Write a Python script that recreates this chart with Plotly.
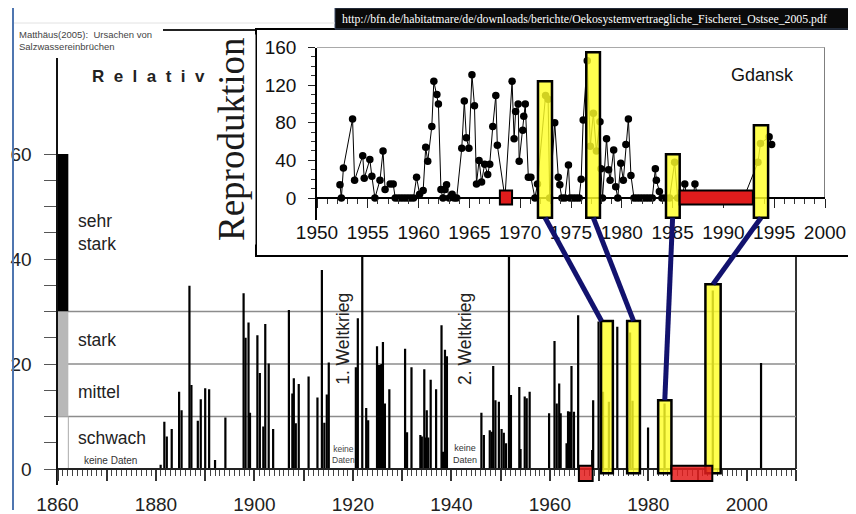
import plotly.graph_objects as go

# ---------------- data ----------------
# Matthäus (2005): relative intensity of major Baltic inflows
bar_years = [1880.95, 1881.7, 1882.2, 1883.2, 1884.7, 1885.2, 1886.8, 1887.2, 1888.5, 1889.1,
             1890.0, 1890.8, 1892.0, 1894.1, 1897.8, 1898.2, 1898.8, 1899.1, 1900.6, 1901.1,
             1901.8, 1902.2, 1902.9, 1903.8, 1907.0, 1907.7, 1908.0, 1908.4, 1909.0, 1911.0,
             1912.8, 1913.7, 1914.2, 1914.7, 1915.1, 1920.6, 1921.0, 1921.9, 1922.7, 1923.1,
             1924.9, 1925.2, 1925.5, 1925.8, 1926.1, 1926.5, 1927.4, 1930.6, 1931.0, 1931.9,
             1933.7, 1934.0, 1934.5, 1934.8, 1935.0, 1935.3, 1935.8, 1936.9, 1938.0, 1938.3,
             1938.7, 1939.1, 1946.1, 1946.6, 1947.8, 1948.2, 1948.5, 1948.95, 1949.65, 1950.2,
             1950.65, 1951.1, 1951.7, 1952.1, 1953.8, 1954.05, 1954.9, 1955.3, 1955.9, 1959.85,
             1960.95, 1961.4, 1961.9, 1962.2, 1963.4, 1963.7, 1964.1, 1964.4, 1964.9, 1965.75,
             1968.6, 1968.8, 1969.9, 1970.8, 1972.0, 1973.7, 1976.3, 1976.8, 1979.95, 1982.0,
             1983.3, 1993.1, 2002.9]
bar_values = [0.8, 9.0, 6.2, 7.6, 14.7, 11.2, 34.9, 16.0, 9.2, 13.3,
              15.4, 15.2, 1.7, 9.8, 33.5, 25.0, 27.9, 10.7, 25.5, 18.3,
              8.1, 27.6, 20.1, 7.6, 30.3, 14.4, 17.3, 8.7, 16.2, 17.6,
              13.6, 37.9, 8.8, 14.2, 20.3, 19.4, 28.7, 90.0, 11.6, 9.3,
              23.4, 19.8, 19.8, 20.0, 24.2, 12.5, 15.2, 22.9, 7.0, 19.4,
              6.5, 6.2, 19.0, 6.0, 11.2, 6.0, 17.0, 15.2, 27.4, 3.3,
              22.7, 21.5, 10.7, 6.5, 7.4, 7.1, 19.6, 13.1, 12.8, 7.6,
              6.9, 4.9, 90.0, 14.1, 15.6, 3.8, 13.8, 13.5, 14.7, 10.6,
              24.4, 12.5, 16.3, 10.6, 4.9, 11.0, 10.9, 19.6, 10.9, 29.3,
              3.6, 13.1, 28.1, 14.7, 12.8, 27.1, 26.0, 13.0, 7.9, 12.8,
              12.5, 34.0, 20.2]

# Gdansk reproduction index (inset)
gdansk_years = [1952.26, 1952.4, 1952.6, 1953.5, 1953.7, 1954.5, 1954.65, 1955.2, 1955.4, 1955.7,
                1956.2, 1956.5, 1956.7, 1957.2, 1957.5, 1957.7, 1958.0, 1958.3, 1958.6, 1958.9,
                1959.2, 1959.5, 1959.8, 1960.1, 1960.45, 1960.7, 1960.9, 1961.3, 1961.5, 1961.8,
                1961.95, 1962.2, 1962.4, 1962.6, 1962.75, 1963.0, 1963.3, 1963.5, 1963.75, 1964.25,
                1964.5, 1964.7, 1964.95, 1965.25, 1965.5, 1965.7, 1965.95, 1966.2, 1966.5, 1966.8,
                1967.0, 1967.3, 1967.6, 1967.75, 1968.5, 1969.2, 1969.4, 1969.55, 1969.8, 1969.9,
                1970.25, 1970.35, 1970.5, 1970.8, 1971.05, 1971.45, 1971.7, 1972.5, 1972.75, 1972.9,
                1973.4, 1973.75, 1973.9, 1974.1, 1974.4, 1974.75, 1974.9, 1975.2, 1975.5, 1975.8,
                1976.0, 1976.2, 1976.6, 1976.9, 1977.2, 1977.5, 1977.85, 1977.95, 1978.1, 1978.5,
                1978.7, 1978.85, 1979.2, 1979.4, 1979.6, 1979.9, 1980.15, 1980.4, 1980.65, 1980.9,
                1981.2, 1981.5, 1981.8, 1982.1, 1982.4, 1982.7, 1983.0, 1983.3, 1983.4, 1983.7,
                1983.95, 1984.3, 1984.7, 1985.2, 1985.5, 1985.9, 1986.2, 1986.4, 1987.0, 1987.2,
                1987.5, 1988.0, 1989.0, 1990.0, 1991.0, 1992.0, 1993.4, 1993.65, 1994.5, 1994.75]
gdansk_values = [14, 0, 32, 84, 19, 45, 21, 41, 23, 0,
                 19, 50, 9, 15, 15, 0, 0, 0, 0, 0,
                 0, 0, 22, 4, 8, 54, 39, 76, 124, 110,
                 100, 9, 0, 9, 14, 0, 4, 0, 0, 53,
                 103, 64, 53, 131, 98, 15, 40, 17, 36, 25,
                 36, 76, 109, 56, 0, 124, 63, 92, 100, 39,
                 72, 87, 100, 22, 22, 0, 15, 109, 105, 0,
                 80, 22, 14, 0, 0, 35, 0, 0, 0, 0,
                 20, 83, 146, 55, 90, 50, 81, 31, 0, 63,
                 30, 19, 51, 12, 0, 37, 19, 57, 84, 24,
                 0, 0, 0, 0, 0, 0, 0, 31, 19, 7,
                 0, 0, 0, 38, 0, 0, 15, 0, 0, 15,
                 0, 0, 0, 0, 0, 0, 38, 58, 65, 57]

# tick labels
main_xtick_vals = list(range(1860, 2011, 10))
main_xtick_text = [str(v) if v % 20 == 0 else "" for v in main_xtick_vals]
main_ytick_vals = list(range(0, 61, 5))
main_ytick_text = [str(v) if v % 20 == 0 else "" for v in main_ytick_vals]
inset_xtick_vals = list(range(1950, 2001, 5))
inset_ytick_vals = [0, 40, 80, 120, 160]
inset_yminor_vals = [10, 20, 30, 50, 60, 70, 90, 100, 110, 130, 140, 150]

# intensity classes
class_bounds = [10, 20, 30]
class_names = ["sehr<br>stark", "stark", "mittel", "schwach"]
class_label_y = [45.1, 24.6, 14.7, 5.9]
strong_band = [30, 60]
medium_band = [10, 30]

# highlighted inflow events (yellow) and no-data periods (red)
main_yellow_x0 = [1970.4, 1975.7, 1982.0, 1991.6]
main_yellow_x1 = [1972.8, 1978.3, 1984.7, 1994.7]
main_yellow_top = [28.2, 28.2, 13.1, 35.2]
main_red_x0 = [1965.9, 1984.7]
main_red_x1 = [1968.7, 1993.0]
inset_yellow_x0 = [1971.75, 1976.5, 1984.35, 1993.0]
inset_yellow_x1 = [1973.13, 1977.85, 1985.7, 1994.4]
inset_yellow_top = [124, 155, 46.6, 77.3]
inset_red_x0 = [1968.0, 1985.7]
inset_red_x1 = [1969.2, 1992.9]
conn_inset_x = [1972.45, 1977.2, 1985.0, 1993.7]
conn_main_x = [1970.5, 1977.0, 1983.35, 1993.15]

# ---------------- geometry ----------------
W, H = 856, 514
OFF = 8  # page body margin: figure starts 8 px right/down in the window
FONT = "Arial, 'Liberation Sans', sans-serif"
SERIF = "'Liberation Serif', 'Times New Roman', serif"


def fx(px):
    return (px - OFF) / W


def fy(py):
    return 1 - (py - OFF) / H


MAIN_PX = (57.5, 796.0)
MAIN_XR = [1860, 2010]
MAIN_Y0PX, MAIN_YS = 469.0, 5.25
MAIN_YR = [-3, 84.5]

INSET_PX = (317.0, 825.0)
INSET_XR = [1950, 2000]
INSET_Y0PX, INSET_YS = 198.0, 150.5 / 160
INSET_YR = [-23, 160]

BOX = (257, 852, 30, 255)


def main_paper(x, y):
    px = MAIN_PX[0] + (x - MAIN_XR[0]) / (MAIN_XR[1] - MAIN_XR[0]) * (MAIN_PX[1] - MAIN_PX[0])
    return fx(px), fy(MAIN_Y0PX - y * MAIN_YS)


def inset_paper(x, y):
    px = INSET_PX[0] + (x - INSET_XR[0]) / (INSET_XR[1] - INSET_XR[0]) * (INSET_PX[1] - INSET_PX[0])
    return fx(px), fy(INSET_Y0PX - y * INSET_YS)


fig = go.Figure()
fig.add_trace(go.Bar(x=bar_years, y=bar_values, width=0.45, marker_color="black",
                     marker_line_width=0, xaxis="x", yaxis="y", hoverinfo="skip"))
fig.add_trace(go.Scatter(x=[None], y=[None], xaxis="x2", yaxis="y2", hoverinfo="skip"))
fig.add_trace(go.Scatter(x=gdansk_years, y=gdansk_values, mode="lines+markers",
                         line=dict(color="black", width=1),
                         marker=dict(color="black", size=7.5),
                         xaxis="x3", yaxis="y3", hoverinfo="skip"))

shapes = []
# main gridlines
for lv in class_bounds:
    shapes.append(dict(type="line", xref="x", yref="y", x0=MAIN_XR[0], x1=MAIN_XR[1], y0=lv, y1=lv,
                       line=dict(color="#8c8c8c", width=1.5), layer="below"))
# main frame (right and top)
x_r, y_0 = main_paper(MAIN_XR[1], 0)
_, y_t = main_paper(MAIN_XR[1], 83.6)
x_l, _ = main_paper(MAIN_XR[0], 0)
shapes.append(dict(type="line", xref="paper", yref="paper", x0=x_r, x1=x_r, y0=y_0, y1=y_t,
                   line=dict(color="#333", width=2), layer="below"))
shapes.append(dict(type="line", xref="paper", yref="paper", x0=x_l, x1=x_r, y0=y_t, y1=y_t,
                   line=dict(color="#222", width=2), layer="below"))
# class legend bars
shapes.append(dict(type="rect", xref="x", yref="y", x0=1860, x1=1862.2, y0=strong_band[0], y1=strong_band[1],
                   fillcolor="black", line=dict(width=0), layer="below"))
shapes.append(dict(type="rect", xref="x", yref="y", x0=1860, x1=1862.2, y0=medium_band[0], y1=medium_band[1],
                   fillcolor="#b8b8b8", line=dict(width=0), layer="below"))
shapes.append(dict(type="line", xref="x", yref="y", x0=1862.2, x1=1862.2, y0=0, y1=10,
                   line=dict(color="#aaaaaa", width=1), layer="below"))
# main highlights
YEL = "rgba(255,255,40,0.82)"
RED = "rgba(228,28,28,0.85)"
RED_SOLID = "#e01c1c"
for a, b, t in zip(main_yellow_x0, main_yellow_x1, main_yellow_top):
    shapes.append(dict(type="rect", xref="x", yref="y", x0=a, x1=b, y0=-0.8, y1=t,
                       fillcolor=YEL, line=dict(color="black", width=2.5), layer="above"))
for a, b in zip(main_red_x0, main_red_x1):
    shapes.append(dict(type="rect", xref="x", yref="y", x0=a, x1=b, y0=-2.3, y1=0.6,
                       fillcolor=RED, line=dict(color="black", width=2), layer="above"))
# inset frame top/right
shapes.append(dict(type="line", xref="x3", yref="y3", x0=1950, x1=2000, y0=160, y1=160,
                   line=dict(color="#555", width=1), layer="below"))
shapes.append(dict(type="line", xref="x3", yref="y3", x0=2000, x1=2000, y0=0, y1=160,
                   line=dict(color="#555", width=1.5), layer="below"))
# inset highlights
for a, b, t in zip(inset_yellow_x0, inset_yellow_x1, inset_yellow_top):
    shapes.append(dict(type="rect", xref="x3", yref="y3", x0=a, x1=b, y0=-21, y1=t,
                       fillcolor=YEL, line=dict(color="black", width=2.5), layer="above"))
for a, b in zip(inset_red_x0, inset_red_x1):
    shapes.append(dict(type="rect", xref="x3", yref="y3", x0=a, x1=b, y0=-7, y1=8,
                       fillcolor=RED_SOLID, line=dict(color="black", width=2), layer="above"))
# connectors
for ix, mx, i in zip(conn_inset_x, conn_main_x, range(4)):
    x0p, y0p = inset_paper(ix, -21)
    x1p, y1p = main_paper(mx, main_yellow_top[i])
    shapes.append(dict(type="line", xref="paper", yref="paper", x0=x0p, y0=y0p, x1=x1p, y1=y1p,
                       line=dict(color="#12126e", width=5), layer="above"))
# URL bar, citation box, page border
shapes.append(dict(type="rect", xref="paper", yref="paper", x0=fx(335), x1=fx(856), y0=fy(29), y1=fy(8),
                   fillcolor="#0a0a0a", line=dict(color="#3b4a66", width=1), layer="above"))
shapes.append(dict(type="rect", xref="paper", yref="paper", x0=fx(13), x1=fx(163), y0=fy(58), y1=fy(24),
                   fillcolor="white", line=dict(width=0), layer="above"))
shapes.append(dict(type="line", xref="paper", yref="paper", x0=fx(13), x1=fx(335), y0=fy(23), y1=fy(23),
                   line=dict(color="#e2e2e2", width=1), layer="above"))
shapes.append(dict(type="line", xref="paper", yref="paper", x0=fx(13), x1=fx(13), y0=fy(8), y1=fy(510),
                   line=dict(color="#4f76b0", width=2), layer="above"))

ann = []
ann.append(dict(xref="paper", yref="paper", x=fx(17), y=fy(27), xanchor="left", yanchor="top",
                text="Matthäus(2005):  Ursachen von<br>Salzwassereinbrüchen", showarrow=False, align="left",
                font=dict(family=FONT, size=9.5, color="#444")))
ann.append(dict(xref="paper", yref="paper", x=fx(340), y=fy(18.5), xanchor="left", yanchor="middle",
                text="http://bfn.de/habitatmare/de/downloads/berichte/Oekosystemvertraegliche_Fischerei_Ostsee_2005.pdf",
                showarrow=False, font=dict(family=SERIF, size=11.8, color="white")))
nb = "\u00a0\u00a0"
ann.append(dict(xref="paper", yref="paper", x=fx(90), y=fy(77), xanchor="left", yanchor="middle",
                text="<b>" + nb.join("Relative") + "</b>", showarrow=False,
                font=dict(family=FONT, size=17, color="#222")))
ann.append(dict(xref="paper", yref="paper", x=fx(231), y=fy(140), xanchor="center", yanchor="middle",
                text="Reproduktion", textangle=-90, showarrow=False, bgcolor="white", borderpad=3,
                font=dict(family=SERIF, size=37, color="#1a1a1a")))
ann.append(dict(xref="x3", yref="y3", x=1993.8, y=130.5, text="Gdansk", showarrow=False,
                font=dict(family=FONT, size=18, color="#111")))
for name, yv in zip(class_names, class_label_y):
    ann.append(dict(xref="x", yref="y", x=1863.7, y=yv, xanchor="left", yanchor="middle", align="left",
                    text=name, showarrow=False, font=dict(family=FONT, size=17.5, color="#222")))
ann.append(dict(xref="x", yref="y", x=1870.7, y=1.7, text="keine Daten", showarrow=False,
                font=dict(family=FONT, size=10, color="#333")))
ann.append(dict(xref="x", yref="y", x=1918.0, y=24.8, text="1. Weltkrieg", textangle=-90, showarrow=False,
                font=dict(family=FONT, size=17.5, color="#222")))
ann.append(dict(xref="x", yref="y", x=1942.8, y=24.8, text="2. Weltkrieg", textangle=-90, showarrow=False,
                font=dict(family=FONT, size=17.5, color="#222")))
ann.append(dict(xref="x", yref="y", x=1918.0, y=2.8, text="keine<br>Daten", showarrow=False,
                font=dict(family=FONT, size=8.5, color="#444")))
ann.append(dict(xref="x", yref="y", x=1942.7, y=2.8, text="keine<br>Daten", showarrow=False,
                font=dict(family=FONT, size=9, color="#333")))

fig.update_layout(
    width=W, height=H, margin=dict(l=0, r=0, t=0, b=0, pad=0, autoexpand=False),
    paper_bgcolor="white", plot_bgcolor="white", showlegend=False,
    shapes=shapes, annotations=ann,
    xaxis=dict(domain=[fx(MAIN_PX[0]), fx(MAIN_PX[1])], range=MAIN_XR, anchor="free",
               position=fy(MAIN_Y0PX), showline=True, linecolor="#222", linewidth=2,
               ticks="outside", tickvals=main_xtick_vals, ticktext=main_xtick_text,
               ticklen=11, tickwidth=1.5, tickcolor="#333", ticklabelstandoff=7,
               minor=dict(dtick=1, tick0=1860, ticklen=6, tickwidth=1, tickcolor="#444", ticks="outside"),
               tickfont=dict(family=FONT, size=19, color="#222"), showgrid=False, zeroline=False,
               automargin=False, fixedrange=True),
    yaxis=dict(domain=[fy(MAIN_Y0PX - MAIN_YR[0] * MAIN_YS), fy(MAIN_Y0PX - MAIN_YR[1] * MAIN_YS)],
               range=MAIN_YR, anchor="x", showline=True, linecolor="#111", linewidth=2,
               ticks="outside", tickvals=main_ytick_vals, ticktext=main_ytick_text, ticklen=12,
               tickwidth=1.2, tickcolor="#555", ticklabelstandoff=8,
               tickfont=dict(family=FONT, size=19, color="#222"), showgrid=False, zeroline=False,
               automargin=False, fixedrange=True),
    xaxis2=dict(domain=[fx(BOX[0]), fx(BOX[1])], range=[0, 1], anchor="y2", showline=True, mirror=True,
                linecolor="black", linewidth=2, showticklabels=False, ticks="", showgrid=False,
                zeroline=False, automargin=False, fixedrange=True),
    yaxis2=dict(domain=[fy(BOX[3]), fy(BOX[2])], range=[0, 1], anchor="x2", showline=True, mirror=True,
                linecolor="black", linewidth=2, showticklabels=False, ticks="", showgrid=False,
                zeroline=False, automargin=False, fixedrange=True),
    xaxis3=dict(domain=[fx(INSET_PX[0]), fx(INSET_PX[1])], range=INSET_XR, anchor="free",
                position=fy(INSET_Y0PX), showline=True, linecolor="black", linewidth=1.5,
                ticks="outside", tickvals=inset_xtick_vals, ticklen=9, tickwidth=1.2, tickcolor="#222",
                ticklabelstandoff=8,
                minor=dict(dtick=1, tick0=1950, ticklen=5, tickwidth=1, tickcolor="#333", ticks="outside"),
                tickfont=dict(family=FONT, size=19, color="#111"), showgrid=False, zeroline=False,
                automargin=False, fixedrange=True),
    yaxis3=dict(domain=[fy(INSET_Y0PX - INSET_YR[0] * INSET_YS), fy(INSET_Y0PX - INSET_YR[1] * INSET_YS)],
                range=INSET_YR, anchor="x3", showline=True, linecolor="black", linewidth=1.5,
                ticks="outside", tickvals=inset_ytick_vals, ticklen=7, tickwidth=1.2, tickcolor="#222",
                ticklabelstandoff=8,
                minor=dict(tickvals=inset_yminor_vals, ticklen=4, tickwidth=1, tickcolor="#333", ticks="outside"),
                tickfont=dict(family=FONT, size=19, color="#111"), showgrid=False, zeroline=False,
                automargin=False, fixedrange=True),
)

fig.write_html("out.html")
